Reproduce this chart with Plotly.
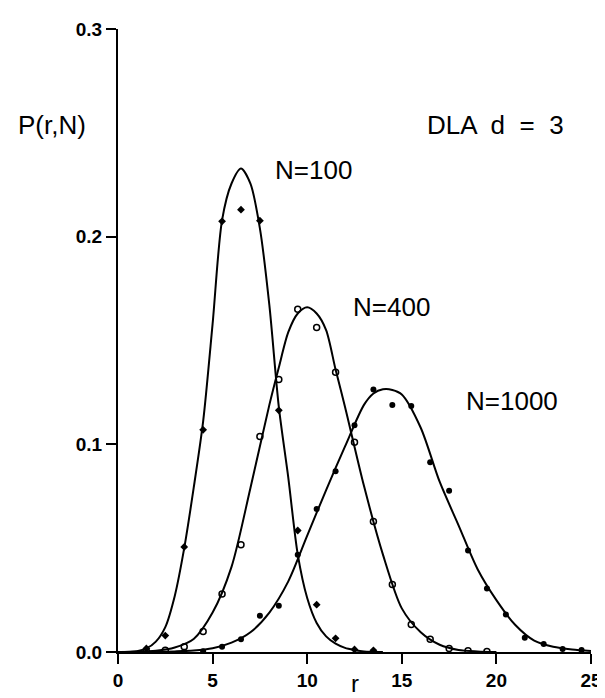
import plotly.graph_objects as go

# ---- data ----
r_pts_100 = [1.5, 2.5, 3.5, 4.5, 5.5, 6.5, 7.5, 8.5, 9.5, 10.5, 11.5, 12.5, 13.5]
p_pts_100 = [0.0017, 0.0079, 0.0506, 0.107, 0.2074, 0.213, 0.2077, 0.1164, 0.0585, 0.0228, 0.0066, 0.0012, 0.0008]

r_pts_400 = [1.5, 2.5, 3.5, 4.5, 5.5, 6.5, 7.5, 8.5, 9.5, 10.5, 11.5, 12.5, 13.5, 14.5, 15.5, 16.5, 17.5, 18.5, 19.5]
p_pts_400 = [0.0004, 0.0008, 0.0025, 0.0099, 0.0279, 0.0516, 0.1038, 0.1312, 0.165, 0.1563, 0.1347, 0.101, 0.0628,
             0.0325, 0.0133, 0.0061, 0.0017, 0.0006, 0.0002]

r_pts_1000 = [3.5, 4.5, 5.5, 6.5, 7.5, 8.5, 9.5, 10.5, 11.5, 12.5, 13.5, 14.5, 15.5, 16.5, 17.5, 18.5, 19.5,
              20.5, 21.5, 22.5, 23.5, 24.5]
p_pts_1000 = [0.0001, 0.0004, 0.0025, 0.0061, 0.0175, 0.0223, 0.0468, 0.0689, 0.087, 0.1092, 0.1264, 0.1189,
              0.1184, 0.0914, 0.0776, 0.0489, 0.0306, 0.018, 0.0069, 0.0038, 0.0015, 0.001]

r_fit_100 = [0, 1, 1.5, 2, 2.5, 3, 3.5, 4, 4.5, 5, 5.5, 6, 6.5, 7, 7.5, 8, 8.5, 9, 9.5, 10, 10.5, 11, 11.5, 12,
             12.5, 13, 14]
p_fit_100 = [0, 0.0004, 0.0017, 0.005, 0.012, 0.027, 0.05, 0.079, 0.111, 0.158, 0.208, 0.2256, 0.2328, 0.2255,
             0.204, 0.167, 0.118, 0.084, 0.047, 0.026, 0.014, 0.0075, 0.004, 0.002, 0.001, 0.0003, 0]

r_fit_400 = [0, 1, 2, 3, 4, 5, 6, 7, 8, 8.5, 9, 9.5, 10, 10.5, 11, 11.5, 12, 13, 14, 15, 16, 17, 18, 19, 20]
p_fit_400 = [0, 0.0001, 0.0006, 0.0022, 0.0063, 0.019, 0.041, 0.079, 0.119, 0.137, 0.154, 0.163, 0.166, 0.163,
             0.155, 0.136, 0.118, 0.080, 0.047, 0.021, 0.0095, 0.0035, 0.001, 0.0003, 0]

r_fit_1000 = [0, 2, 3, 4, 5, 6, 7, 8, 9, 10, 11, 12, 13, 13.5, 14, 14.5, 15, 16, 17, 18, 19, 20, 21, 22, 23, 24, 25]
p_fit_1000 = [0, 0.0001, 0.0003, 0.0007, 0.0018, 0.0045, 0.0095, 0.019, 0.034, 0.056, 0.078, 0.099, 0.119,
              0.1245, 0.1265, 0.1262, 0.124, 0.108, 0.082, 0.061, 0.040, 0.025, 0.013, 0.0055, 0.0025, 0.0012, 0.0005]

x_ticks = [0, 5, 10, 15, 20, 25]
y_ticks = [0.0, 0.1, 0.2, 0.3]

FONT = "Liberation Sans"
LABEL_SIZE = 26
W, H = 605, 698
M_L, M_R, M_T, M_B = 110, 11, 14, 54

fig = go.Figure()
for rf, pf in [(r_fit_100, p_fit_100), (r_fit_400, p_fit_400), (r_fit_1000, p_fit_1000)]:
    fig.add_trace(go.Scatter(x=rf, y=pf, mode="lines", line=dict(color="black", width=2, shape="spline", smoothing=0.8),
                             hoverinfo="skip", showlegend=False))

fig.add_trace(go.Scatter(x=r_pts_100, y=p_pts_100, mode="markers", showlegend=False,
                         marker=dict(symbol="diamond", size=6, color="black")))
fig.add_trace(go.Scatter(x=r_pts_400, y=p_pts_400, mode="markers", showlegend=False,
                         marker=dict(symbol="circle-open", size=6, color="black", line=dict(width=1.5, color="black"))))
fig.add_trace(go.Scatter(x=r_pts_1000, y=p_pts_1000, mode="markers", showlegend=False,
                         marker=dict(symbol="circle", size=6, color="black")))

labels = [
    ("N=100", 8.2, 0.232),
    ("N=400", 12.3, 0.166),
    ("N=1000", 18.3, 0.121),
    ("DLA  d  =  3", 16.2, 0.254),
]
for txt, xx, yy in labels:
    fig.add_annotation(x=xx, y=yy, xref="x", yref="y", text=txt, showarrow=False, xanchor="left", yanchor="middle",
                       font=dict(family=FONT, size=LABEL_SIZE, color="black"))

fig.add_annotation(x=0.0, y=0.254, xref="paper", yref="y", text="P(r,N)", showarrow=False, xanchor="left",
                   xshift=-102, font=dict(family=FONT, size=LABEL_SIZE, color="black"))

# x-axis title: anchored to the bottom of the page so it stays fully visible
page_bottom = -M_B / (H - M_T - M_B)
fig.add_annotation(x=12.5, y=page_bottom, xref="x", yref="paper", text="r", showarrow=False, xanchor="center",
                   yanchor="bottom", yshift=6, font=dict(family=FONT, size=24, color="black"))

fig.update_xaxes(range=[0, 25], tickvals=x_ticks, ticktext=[str(v) for v in x_ticks], showline=True,
                 linecolor="black", linewidth=2, ticks="outside", ticklen=10, tickwidth=2, tickcolor="black",
                 showgrid=False, zeroline=False, tickfont=dict(family=FONT, size=19, color="black", weight="bold"))
fig.update_yaxes(range=[0, 0.3], tickvals=y_ticks, ticktext=[f"{v:.1f}" for v in y_ticks], showline=True,
                 linecolor="black", linewidth=2, ticks="outside", ticklen=10, tickwidth=2, tickcolor="black",
                 showgrid=False, zeroline=False, tickfont=dict(family=FONT, size=19, color="black", weight="bold"))

fig.update_layout(width=W, height=H, margin=dict(l=M_L, r=M_R, t=M_T, b=M_B), plot_bgcolor="white",
                  paper_bgcolor="white", showlegend=False)

fig.write_html("out.html")
